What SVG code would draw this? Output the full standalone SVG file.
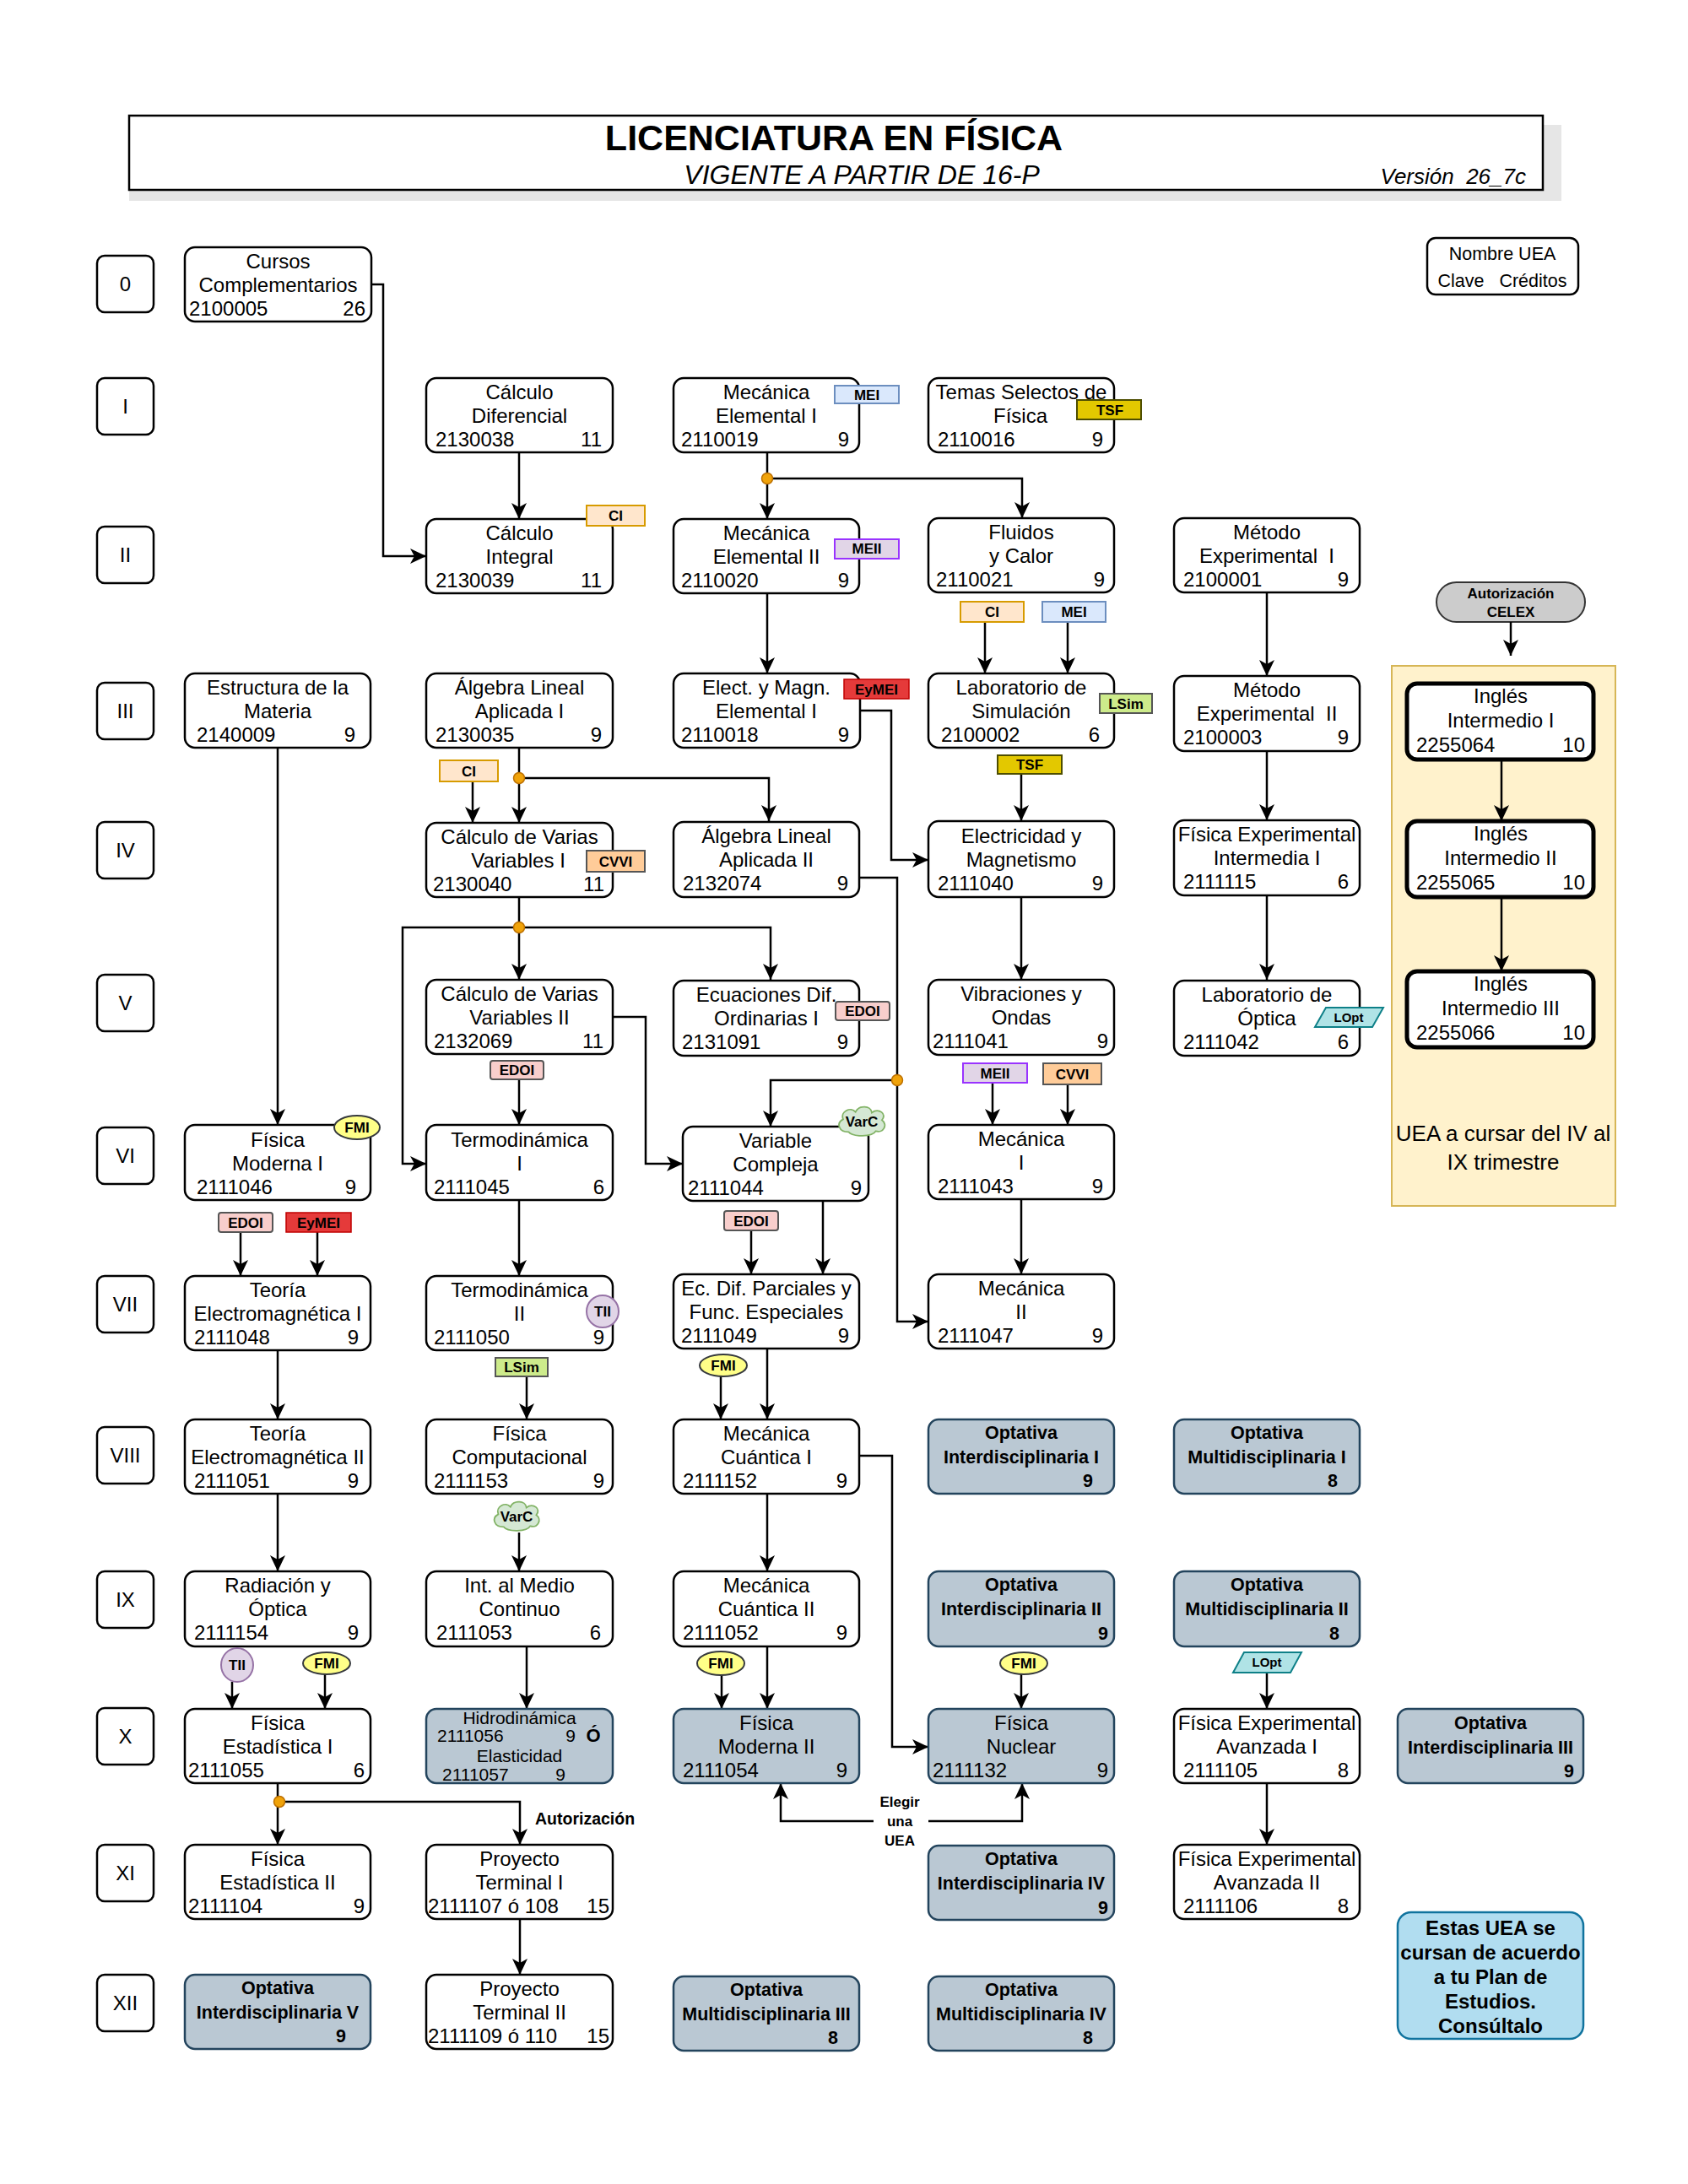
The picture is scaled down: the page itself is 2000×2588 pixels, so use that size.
<svg xmlns="http://www.w3.org/2000/svg" width="2000" height="2588" viewBox="0 0 2000 2588">
<style>
.box{fill:#fff;stroke:#000;stroke-width:2.5}
.opt{fill:#bac8d3;stroke:#23445d;stroke-width:2.5}
.ing{fill:#fff;stroke:#000;stroke-width:5}
.lab{fill:#fff;stroke:#000;stroke-width:2.5}
text{font-family:"Liberation Sans",Arial,Helvetica,sans-serif;fill:#000}
.t{font-size:24px;text-anchor:middle}
.c{font-size:24px;text-anchor:start}
.r{font-size:24px;text-anchor:end}
.ob{font-size:21.5px;font-weight:bold;text-anchor:middle}
.obr{font-size:21.5px;font-weight:bold;text-anchor:end}
.tag{font-size:17px;font-weight:bold;text-anchor:middle}
.con path{fill:none;stroke:#000;stroke-width:2.5}
.dot{fill:#f0a30a;stroke:#bd7000;stroke-width:1.5}
.ci{fill:#ffe6cc;stroke:#d79b00;stroke-width:2}
.mei{fill:#dae8fc;stroke:#6c8ebf;stroke-width:2}
.meii{fill:#e1d5e7;stroke:#9933ff;stroke-width:2}
.tsf{fill:#e3c800;stroke:#4d4d00;stroke-width:2}
.eym{fill:#e53a3a;stroke:#c00000;stroke-width:1.5}
.lsim{fill:#cdeb8b;stroke:#555;stroke-width:2}
.cvvi{fill:#ffcc99;stroke:#555;stroke-width:2}
.edoi{fill:#f8cecc;stroke:#555;stroke-width:2}
.fmi{fill:#ffff88;stroke:#36393d;stroke-width:2}
.tii{fill:#e1d5e7;stroke:#9673a6;stroke-width:2}
.varc{fill:#d5e8d4;stroke:#82b366;stroke-width:2}
.lopt{fill:#b0e3e6;stroke:#0e8088;stroke-width:2}
</style>
<defs>
<marker id="arr" markerUnits="userSpaceOnUse" markerWidth="22" markerHeight="22" viewBox="0 0 22 22" refX="19" refY="11" orient="auto">
<path d="M0,2 L19,11 L0,20 L5,11 Z" fill="#000"/>
</marker>
<path id="cloud" d="M-17,14 C-30,14 -33,2 -24,-3 C-28,-14 -14,-20 -8,-13 C-4,-22 12,-22 13,-12 C22,-19 33,-10 26,-2 C34,4 28,16 18,13 C14,21 -12,21 -17,14 Z"/>
</defs>
<rect width="2000" height="2588" fill="#fff"/>

<!-- Title -->
<g id="title">
<rect x="153" y="148" width="1697" height="90" fill="#e6e6e6"/>
<rect x="153" y="137" width="1675" height="88" fill="#fff" stroke="#000" stroke-width="2.5"/>
<text x="988" y="178" style="font-size:43px;font-weight:bold;text-anchor:middle">LICENCIATURA EN FÍSICA</text>
<text x="1021" y="218" style="font-size:32px;font-style:italic;text-anchor:middle">VIGENTE A PARTIR DE 16-P</text>
<text x="1808" y="218" xml:space="preserve" style="font-size:26px;font-style:italic;text-anchor:end">Versión  26_7c</text>
</g>

<g id="legend">
<rect x="1691" y="282" width="179" height="67" rx="10" class="box"/>
<text x="1780" y="308" style="font-size:21.5px;text-anchor:middle">Nombre UEA</text>
<text x="1780" y="340" xml:space="preserve" style="font-size:21.5px;text-anchor:middle">Clave   Créditos</text>
</g>

<!-- Semester labels -->
<g id="semesters">
<rect class="lab" x="115" y="303" width="67" height="67" rx="9"/><text class="t" x="148.5" y="345">0</text>
<rect class="lab" x="115" y="448" width="67" height="67" rx="9"/><text class="t" x="148.5" y="490">I</text>
<rect class="lab" x="115" y="624" width="67" height="67" rx="9"/><text class="t" x="148.5" y="666">II</text>
<rect class="lab" x="115" y="809" width="67" height="67" rx="9"/><text class="t" x="148.5" y="851">III</text>
<rect class="lab" x="115" y="974" width="67" height="67" rx="9"/><text class="t" x="148.5" y="1016">IV</text>
<rect class="lab" x="115" y="1155" width="67" height="67" rx="9"/><text class="t" x="148.5" y="1197">V</text>
<rect class="lab" x="115" y="1336" width="67" height="67" rx="9"/><text class="t" x="148.5" y="1378">VI</text>
<rect class="lab" x="115" y="1512" width="67" height="67" rx="9"/><text class="t" x="148.5" y="1554">VII</text>
<rect class="lab" x="115" y="1691" width="67" height="67" rx="9"/><text class="t" x="148.5" y="1733">VIII</text>
<rect class="lab" x="115" y="1862" width="67" height="67" rx="9"/><text class="t" x="148.5" y="1904">IX</text>
<rect class="lab" x="115" y="2024" width="67" height="67" rx="9"/><text class="t" x="148.5" y="2066">X</text>
<rect class="lab" x="115" y="2186" width="67" height="67" rx="9"/><text class="t" x="148.5" y="2228">XI</text>
<rect class="lab" x="115" y="2340" width="67" height="67" rx="9"/><text class="t" x="148.5" y="2382">XII</text>
</g>

<!-- Yellow region -->
<g id="region-ingles">
<rect x="1649" y="789" width="265" height="640" fill="#fff2cc" stroke="#d6b656" stroke-width="2"/>
<text x="1781" y="1352" style="font-size:26px;text-anchor:middle">UEA a cursar del IV al</text>
<text x="1781" y="1386" style="font-size:26px;text-anchor:middle">IX trimestre</text>
</g>

<g id="celex">
<rect x="1702" y="690" width="176" height="47" rx="23.5" fill="#cccccc" stroke="#333" stroke-width="2"/>
<text x="1790" y="709" style="font-size:17px;font-weight:bold;text-anchor:middle">Autorización</text>
<text x="1790" y="731" style="font-size:17px;font-weight:bold;text-anchor:middle">CELEX</text>
</g>

<!-- Connectors -->
<g id="connectors" class="con">
<path d="M439,337 H454 V659 H505" marker-end="url(#arr)"/>
<path d="M615,536 V615" marker-end="url(#arr)"/>
<path d="M909,536 V615" marker-end="url(#arr)"/>
<path d="M909,567 H1211 V614" marker-end="url(#arr)"/>
<path d="M909,703 V798" marker-end="url(#arr)"/>
<path d="M1167,737 V798" marker-end="url(#arr)"/>
<path d="M1265,737 V798" marker-end="url(#arr)"/>
<path d="M1501,702 V801" marker-end="url(#arr)"/>
<path d="M1501,890 V972" marker-end="url(#arr)"/>
<path d="M1501,1061 V1161" marker-end="url(#arr)"/>
<path d="M1790,737 V777" marker-end="url(#arr)"/>
<path d="M1779,900 V973" marker-end="url(#arr)"/>
<path d="M1779,1063 V1151" marker-end="url(#arr)"/>
<path d="M1019,842 H1056 V1019 H1100" marker-end="url(#arr)"/>
<path d="M1210,917 V973" marker-end="url(#arr)"/>
<path d="M615,886 V975" marker-end="url(#arr)"/>
<path d="M615,922 H911 V973" marker-end="url(#arr)"/>
<path d="M560,926 V975" marker-end="url(#arr)"/>
<path d="M615,1063 V1161" marker-end="url(#arr)"/>
<path d="M615,1099 H477 V1379 H505" marker-end="url(#arr)"/>
<path d="M615,1099 H913 V1161" marker-end="url(#arr)"/>
<path d="M329,886 V1333" marker-end="url(#arr)"/>
<path d="M1018,1040 H1063 V1566 H1100" marker-end="url(#arr)"/>
<path d="M1063,1280 H913 V1335" marker-end="url(#arr)"/>
<path d="M726,1205 H765 V1379 H809" marker-end="url(#arr)"/>
<path d="M615,1279 V1333" marker-end="url(#arr)"/>
<path d="M1210,1063 V1161" marker-end="url(#arr)"/>
<path d="M1176,1283 V1333" marker-end="url(#arr)"/>
<path d="M1265,1286 V1333" marker-end="url(#arr)"/>
<path d="M1210,1421 V1510" marker-end="url(#arr)"/>
<path d="M285,1460 V1512" marker-end="url(#arr)"/>
<path d="M376,1460 V1512" marker-end="url(#arr)"/>
<path d="M615,1421 V1512" marker-end="url(#arr)"/>
<path d="M975,1423 V1510" marker-end="url(#arr)"/>
<path d="M890,1458 V1510" marker-end="url(#arr)"/>
<path d="M329,1600 V1682" marker-end="url(#arr)"/>
<path d="M624,1631 V1682" marker-end="url(#arr)"/>
<path d="M854,1631 V1682" marker-end="url(#arr)"/>
<path d="M909,1598 V1682" marker-end="url(#arr)"/>
<path d="M1018,1725 H1057 V2070 H1100" marker-end="url(#arr)"/>
<path d="M329,1770 V1862" marker-end="url(#arr)"/>
<path d="M615,1816 V1862" marker-end="url(#arr)"/>
<path d="M909,1770 V1862" marker-end="url(#arr)"/>
<path d="M275,1993 V2025" marker-end="url(#arr)"/>
<path d="M385,1984 V2025" marker-end="url(#arr)"/>
<path d="M624,1951 V2025" marker-end="url(#arr)"/>
<path d="M855,1985 V2025" marker-end="url(#arr)"/>
<path d="M909,1951 V2025" marker-end="url(#arr)"/>
<path d="M1210,1984 V2025" marker-end="url(#arr)"/>
<path d="M1501,1982 V2025" marker-end="url(#arr)"/>
<path d="M329,2113 V2186" marker-end="url(#arr)"/>
<path d="M331,2135 H616 V2186" marker-end="url(#arr)"/>
<path d="M616,2274 V2340" marker-end="url(#arr)"/>
<path d="M1501,2113 V2186" marker-end="url(#arr)"/>
<path d="M1035,2158 H925 V2113" marker-end="url(#arr)"/>
<path d="M1100,2158 H1211 V2113" marker-end="url(#arr)"/>
<circle class="dot" cx="909" cy="567" r="6.5"/>
<circle class="dot" cx="615" cy="922" r="6.5"/>
<circle class="dot" cx="615" cy="1099" r="6.5"/>
<circle class="dot" cx="1063" cy="1280" r="6.5"/>
<circle class="dot" cx="331" cy="2135" r="6.5"/>
<text x="634" y="2162" style="font-size:19.5px;font-weight:bold">Autorización</text>
<text x="1066" y="2141" style="font-size:17px;font-weight:bold;text-anchor:middle">Elegir</text>
<text x="1066" y="2164" style="font-size:17px;font-weight:bold;text-anchor:middle">una</text>
<text x="1066" y="2187" style="font-size:17px;font-weight:bold;text-anchor:middle">UEA</text>
</g>

<!-- Row 0 -->
<g id="n-cursos"><rect class="box" x="219" y="293" width="221" height="88" rx="12"/>
<text class="t" x="329.5" y="318">Cursos</text><text class="t" x="329.5" y="346">Complementarios</text>
<text class="c" x="224" y="374">2100005</text><text class="r" x="433" y="374">26</text></g>

<!-- Row I -->
<g id="n-2130038"><rect class="box" x="505" y="448" width="221" height="88" rx="12"/>
<text class="t" x="615.5" y="473">Cálculo</text><text class="t" x="615.5" y="501">Diferencial</text>
<text class="c" x="516" y="529">2130038</text><text class="r" x="713" y="529">11</text></g>
<g id="n-2110019"><rect class="box" x="798" y="448" width="220" height="88" rx="12"/>
<text class="t" x="908" y="473">Mecánica</text><text class="t" x="908" y="501">Elemental I</text>
<text class="c" x="807" y="529">2110019</text><text class="r" x="1006" y="529">9</text>
<rect class="mei" x="989" y="457" width="76" height="21"/><text class="tag" x="1027" y="474">MEI</text></g>
<g id="n-2110016"><rect class="box" x="1100" y="448" width="220" height="88" rx="12"/>
<text class="t" x="1210" y="473">Temas Selectos de</text><text class="t" x="1209" y="501">Física</text>
<text class="c" x="1111" y="529">2110016</text><text class="r" x="1307" y="529">9</text>
<rect class="tsf" x="1276" y="474" width="76" height="23"/><text class="tag" x="1315" y="492">TSF</text></g>

<!-- Row II -->
<g id="n-2130039"><rect class="box" x="505" y="615" width="221" height="88" rx="12"/>
<text class="t" x="615.5" y="640">Cálculo</text><text class="t" x="615.5" y="668">Integral</text>
<text class="c" x="516" y="696">2130039</text><text class="r" x="713" y="696">11</text>
<rect class="ci" x="695" y="599" width="69" height="24"/><text class="tag" x="729.5" y="617">CI</text></g>
<g id="n-2110020"><rect class="box" x="798" y="615" width="220" height="88" rx="12"/>
<text class="t" x="908" y="640">Mecánica</text><text class="t" x="908" y="668">Elemental II</text>
<text class="c" x="807" y="696">2110020</text><text class="r" x="1006" y="696">9</text>
<rect class="meii" x="989" y="639" width="76" height="23"/><text class="tag" x="1027" y="656">MEII</text></g>
<g id="n-2110021"><rect class="box" x="1100" y="614" width="220" height="88" rx="12"/>
<text class="t" x="1210" y="639">Fluidos</text><text class="t" x="1210" y="667">y Calor</text>
<text class="c" x="1109" y="695">2110021</text><text class="r" x="1309" y="695">9</text></g>
<g id="n-2100001"><rect class="box" x="1391" y="614" width="220" height="88" rx="12"/>
<text class="t" x="1501" y="639">Método</text><text class="t" x="1501" y="667" xml:space="preserve">Experimental  I</text>
<text class="c" x="1402" y="695">2100001</text><text class="r" x="1598" y="695">9</text></g>
<g id="tags-lab-sim">
<rect class="ci" x="1138" y="713" width="75" height="24"/><text class="tag" x="1175.5" y="731">CI</text>
<rect class="mei" x="1235" y="713" width="75" height="24"/><text class="tag" x="1272.5" y="731">MEI</text></g>

<!-- Row III -->
<g id="n-2140009"><rect class="box" x="219" y="798" width="220" height="88" rx="12"/>
<text class="t" x="329" y="823">Estructura de la</text><text class="t" x="329" y="851">Materia</text>
<text class="c" x="233" y="879">2140009</text><text class="r" x="421" y="879">9</text></g>
<g id="n-2130035"><rect class="box" x="505" y="798" width="221" height="88" rx="12"/>
<text class="t" x="615.5" y="823">Álgebra Lineal</text><text class="t" x="615.5" y="851">Aplicada I</text>
<text class="c" x="516" y="879">2130035</text><text class="r" x="713" y="879">9</text></g>
<g id="n-2110018"><rect class="box" x="798" y="798" width="221" height="88" rx="12"/>
<text class="t" x="908" y="823">Elect. y Magn.</text><text class="t" x="908" y="851">Elemental I</text>
<text class="c" x="807" y="879">2110018</text><text class="r" x="1006" y="879">9</text>
<rect class="eym" x="1000" y="805" width="77" height="23"/><text class="tag" x="1038.5" y="823">EyMEI</text></g>
<g id="n-2100002"><rect class="box" x="1100" y="798" width="220" height="88" rx="12"/>
<text class="t" x="1210" y="823">Laboratorio de</text><text class="t" x="1210" y="851">Simulación</text>
<text class="c" x="1115" y="879">2100002</text><text class="r" x="1303" y="879">6</text>
<rect class="lsim" x="1303" y="822" width="62" height="23"/><text class="tag" x="1334" y="840">LSim</text></g>
<g id="n-2100003"><rect class="box" x="1391" y="801" width="220" height="89" rx="12"/>
<text class="t" x="1501" y="826">Método</text><text class="t" x="1501" y="854" xml:space="preserve">Experimental  II</text>
<text class="c" x="1402" y="882">2100003</text><text class="r" x="1598" y="882">9</text></g>
<g id="n-2255064"><rect class="ing" x="1667" y="810" width="221" height="90" rx="12"/>
<text class="t" x="1778" y="833">Inglés</text><text class="t" x="1778" y="862">Intermedio I</text>
<text class="c" x="1678" y="891">2255064</text><text class="r" x="1878" y="891">10</text></g>
<g id="tags-row3">
<rect class="tsf" x="1182" y="895" width="76" height="22"/><text class="tag" x="1220" y="912">TSF</text>
<rect class="ci" x="521" y="901" width="69" height="25"/><text class="tag" x="555.5" y="920">CI</text></g>

<!-- Row IV -->
<g id="n-2130040"><rect class="box" x="505" y="975" width="221" height="88" rx="12"/>
<text class="t" x="615.5" y="1000">Cálculo de Varias</text><text class="t" x="614" y="1028">Variables I</text>
<text class="c" x="513" y="1056">2130040</text><text class="r" x="716" y="1056">11</text>
<rect class="cvvi" x="695" y="1008" width="69" height="25"/><text class="tag" x="729.5" y="1027">CVVI</text></g>
<g id="n-2132074"><rect class="box" x="798" y="974" width="220" height="89" rx="12"/>
<text class="t" x="908" y="999">Álgebra Lineal</text><text class="t" x="908" y="1027">Aplicada II</text>
<text class="c" x="809" y="1055">2132074</text><text class="r" x="1005" y="1055">9</text></g>
<g id="n-2111040"><rect class="box" x="1100" y="973" width="220" height="90" rx="12"/>
<text class="t" x="1210" y="999">Electricidad y</text><text class="t" x="1210" y="1027">Magnetismo</text>
<text class="c" x="1111" y="1055">2111040</text><text class="r" x="1307" y="1055">9</text></g>
<g id="n-2111115"><rect class="box" x="1391" y="972" width="220" height="89" rx="12"/>
<text class="t" x="1501" y="997">Física Experimental</text><text class="t" x="1501" y="1025">Intermedia I</text>
<text class="c" x="1402" y="1053">2111115</text><text class="r" x="1598" y="1053">6</text></g>
<g id="n-2255065"><rect class="ing" x="1667" y="973" width="221" height="90" rx="12"/>
<text class="t" x="1778" y="996">Inglés</text><text class="t" x="1778" y="1025">Intermedio II</text>
<text class="c" x="1678" y="1054">2255065</text><text class="r" x="1878" y="1054">10</text></g>

<!-- Row V -->
<g id="n-2132069"><rect class="box" x="505" y="1161" width="221" height="88" rx="12"/>
<text class="t" x="615.5" y="1186">Cálculo de Varias</text><text class="t" x="615.5" y="1214">Variables II</text>
<text class="c" x="514" y="1242">2132069</text><text class="r" x="715" y="1242">11</text></g>
<g id="n-2131091"><rect class="box" x="798" y="1162" width="220" height="89" rx="12"/>
<text class="t" x="908" y="1187">Ecuaciones Dif.</text><text class="t" x="908" y="1215">Ordinarias I</text>
<text class="c" x="808" y="1243">2131091</text><text class="r" x="1005" y="1243">9</text>
<rect class="edoi" x="990" y="1187" width="64" height="22" rx="3"/><text class="tag" x="1022" y="1204">EDOI</text></g>
<g id="n-2111041"><rect class="box" x="1100" y="1161" width="220" height="89" rx="12"/>
<text class="t" x="1210" y="1186">Vibraciones y</text><text class="t" x="1210" y="1214">Ondas</text>
<text class="c" x="1105" y="1242">2111041</text><text class="r" x="1313" y="1242">9</text></g>
<g id="n-2111042"><rect class="box" x="1391" y="1162" width="220" height="89" rx="12"/>
<text class="t" x="1501" y="1187">Laboratorio de</text><text class="t" x="1501" y="1215">Óptica</text>
<text class="c" x="1402" y="1243">2111042</text><text class="r" x="1598" y="1243">6</text>
<polygon class="lopt" points="1571,1194 1639,1194 1626,1217 1558,1217"/><text class="tag" x="1598" y="1211" style="font-size:15px">LOpt</text></g>
<g id="n-2255066"><rect class="ing" x="1667" y="1151" width="221" height="90" rx="12"/>
<text class="t" x="1778" y="1174">Inglés</text><text class="t" x="1778" y="1203">Intermedio III</text>
<text class="c" x="1678" y="1232">2255066</text><text class="r" x="1878" y="1232">10</text></g>
<g id="tags-row5">
<rect class="edoi" x="581" y="1257" width="63" height="22" rx="3"/><text class="tag" x="612.5" y="1274">EDOI</text>
<rect class="meii" x="1141" y="1260" width="76" height="23"/><text class="tag" x="1179" y="1278">MEII</text>
<rect class="cvvi" x="1236" y="1260" width="69" height="25"/><text class="tag" x="1270.5" y="1279">CVVI</text></g>

<!-- Row VI -->
<g id="n-2111046"><rect class="box" x="219" y="1333" width="220" height="89" rx="12"/>
<text class="t" x="329" y="1359">Física</text><text class="t" x="329" y="1387">Moderna I</text>
<text class="c" x="233" y="1415">2111046</text><text class="r" x="422" y="1415">9</text>
<ellipse class="fmi" cx="423" cy="1336" rx="27" ry="14"/><text class="tag" x="423" y="1342">FMI</text></g>
<g id="n-2111045"><rect class="box" x="505" y="1333" width="221" height="89" rx="12"/>
<text class="t" x="615.5" y="1359">Termodinámica</text><text class="t" x="615.5" y="1387">I</text>
<text class="c" x="514" y="1415">2111045</text><text class="r" x="716" y="1415">6</text></g>
<g id="n-2111044"><rect class="box" x="809" y="1335" width="220" height="88" rx="12"/>
<text class="t" x="919" y="1360">Variable</text><text class="t" x="919" y="1388">Compleja</text>
<text class="c" x="815" y="1416">2111044</text><text class="r" x="1021" y="1416">9</text>
<use href="#cloud" class="varc" transform="translate(1021,1329) scale(0.92,0.88)"/><text class="tag" x="1021" y="1335">VarC</text></g>
<g id="n-2111043"><rect class="box" x="1100" y="1333" width="220" height="88" rx="12"/>
<text class="t" x="1210" y="1358">Mecánica</text><text class="t" x="1210" y="1386">I</text>
<text class="c" x="1111" y="1414">2111043</text><text class="r" x="1307" y="1414">9</text></g>
<g id="tags-row6">
<rect class="edoi" x="259" y="1437" width="64" height="23" rx="3"/><text class="tag" x="291" y="1455">EDOI</text>
<rect class="eym" x="339" y="1437" width="77" height="23"/><text class="tag" x="377.5" y="1455">EyMEI</text>
<rect class="edoi" x="858" y="1435" width="64" height="23" rx="3"/><text class="tag" x="890" y="1453">EDOI</text></g>

<!-- Row VII -->
<g id="n-2111048"><rect class="box" x="219" y="1512" width="220" height="88" rx="12"/>
<text class="t" x="329" y="1537">Teoría</text><text class="t" x="329" y="1565">Electromagnética I</text>
<text class="c" x="230" y="1593">2111048</text><text class="r" x="425" y="1593">9</text></g>
<g id="n-2111050"><rect class="box" x="505" y="1512" width="221" height="88" rx="12"/>
<text class="t" x="615.5" y="1537">Termodinámica</text><text class="t" x="615.5" y="1565">II</text>
<text class="c" x="514" y="1593">2111050</text><text class="r" x="716" y="1593">9</text>
<circle class="tii" cx="714" cy="1554" r="19"/><text class="tag" x="714" y="1560">TII</text></g>
<g id="n-2111049"><rect class="box" x="798" y="1510" width="220" height="88" rx="12"/>
<text class="t" x="908" y="1535">Ec. Dif. Parciales y</text><text class="t" x="908" y="1563">Func. Especiales</text>
<text class="c" x="807" y="1591">2111049</text><text class="r" x="1006" y="1591">9</text></g>
<g id="n-2111047"><rect class="box" x="1100" y="1510" width="220" height="88" rx="12"/>
<text class="t" x="1210" y="1535">Mecánica</text><text class="t" x="1210" y="1563">II</text>
<text class="c" x="1111" y="1591">2111047</text><text class="r" x="1307" y="1591">9</text></g>
<g id="tags-row7">
<rect class="lsim" x="587" y="1609" width="62" height="22"/><text class="tag" x="618" y="1626">LSim</text>
<ellipse class="fmi" cx="857" cy="1618" rx="28" ry="13"/><text class="tag" x="857" y="1624">FMI</text></g>

<!-- Row VIII -->
<g id="n-2111051"><rect class="box" x="219" y="1682" width="220" height="88" rx="12"/>
<text class="t" x="329" y="1707">Teoría</text><text class="t" x="329" y="1735">Electromagnética II</text>
<text class="c" x="230" y="1763">2111051</text><text class="r" x="425" y="1763">9</text></g>
<g id="n-2111153"><rect class="box" x="505" y="1682" width="221" height="88" rx="12"/>
<text class="t" x="615.5" y="1707">Física</text><text class="t" x="615.5" y="1735">Computacional</text>
<text class="c" x="514" y="1763">2111153</text><text class="r" x="716" y="1763">9</text></g>
<g id="n-2111152"><rect class="box" x="798" y="1682" width="220" height="88" rx="12"/>
<text class="t" x="908" y="1707">Mecánica</text><text class="t" x="908" y="1735">Cuántica I</text>
<text class="c" x="809" y="1763">2111152</text><text class="r" x="1004" y="1763">9</text></g>
<g id="n-opt-inter-1"><rect class="opt" x="1100" y="1682" width="220" height="88" rx="12"/>
<text class="ob" x="1210" y="1705">Optativa</text><text class="ob" x="1210" y="1734">Interdisciplinaria I</text>
<text class="obr" x="1295" y="1762">9</text></g>
<g id="n-opt-multi-1"><rect class="opt" x="1391" y="1682" width="220" height="88" rx="12"/>
<text class="ob" x="1501" y="1705">Optativa</text><text class="ob" x="1501" y="1734">Multidisciplinaria I</text>
<text class="obr" x="1585" y="1762">8</text></g>
<g id="tags-row8">
<use href="#cloud" class="varc" transform="translate(612,1797) scale(0.9,0.88)"/><text class="tag" x="612" y="1803">VarC</text></g>

<!-- Row IX -->
<g id="n-2111154"><rect class="box" x="219" y="1862" width="220" height="89" rx="12"/>
<text class="t" x="329" y="1887">Radiación y</text><text class="t" x="329" y="1915">Óptica</text>
<text class="c" x="230" y="1943">2111154</text><text class="r" x="425" y="1943">9</text></g>
<g id="n-2111053"><rect class="box" x="505" y="1862" width="221" height="89" rx="12"/>
<text class="t" x="615.5" y="1887">Int. al Medio</text><text class="t" x="615.5" y="1915">Continuo</text>
<text class="c" x="517" y="1943">2111053</text><text class="r" x="712" y="1943">6</text></g>
<g id="n-2111052"><rect class="box" x="798" y="1862" width="220" height="89" rx="12"/>
<text class="t" x="908" y="1887">Mecánica</text><text class="t" x="908" y="1915">Cuántica II</text>
<text class="c" x="809" y="1943">2111052</text><text class="r" x="1004" y="1943">9</text></g>
<g id="n-opt-inter-2"><rect class="opt" x="1100" y="1862" width="220" height="89" rx="12"/>
<text class="ob" x="1210" y="1885">Optativa</text><text class="ob" x="1210" y="1914">Interdisciplinaria II</text>
<text class="obr" x="1313" y="1943">9</text></g>
<g id="n-opt-multi-2"><rect class="opt" x="1391" y="1862" width="220" height="89" rx="12"/>
<text class="ob" x="1501" y="1885">Optativa</text><text class="ob" x="1501" y="1914">Multidisciplinaria II</text>
<text class="obr" x="1587" y="1943">8</text></g>
<g id="tags-row9">
<ellipse class="tii" cx="281" cy="1973" rx="19" ry="20"/><text class="tag" x="281" y="1979">TII</text>
<ellipse class="fmi" cx="387" cy="1971" rx="28" ry="13"/><text class="tag" x="387" y="1977">FMI</text>
<ellipse class="fmi" cx="854" cy="1971" rx="28" ry="14"/><text class="tag" x="854" y="1977">FMI</text>
<ellipse class="fmi" cx="1213" cy="1971" rx="28" ry="13"/><text class="tag" x="1213" y="1977">FMI</text>
<polygon class="lopt" points="1474,1958 1542,1958 1529,1982 1461,1982"/><text class="tag" x="1501" y="1975" style="font-size:15px">LOpt</text></g>

<!-- Row X -->
<g id="n-2111055"><rect class="box" x="219" y="2025" width="220" height="88" rx="12"/>
<text class="t" x="329" y="2050">Física</text><text class="t" x="329" y="2078">Estadística I</text>
<text class="c" x="223" y="2106">2111055</text><text class="r" x="432" y="2106">6</text></g>
<g id="n-2111056-57"><rect class="opt" x="505" y="2025" width="221" height="88" rx="12"/>
<text x="615.5" y="2043" style="font-size:21px;text-anchor:middle">Hidrodinámica</text>
<text x="518" y="2064" style="font-size:21px">2111056</text>
<text x="682" y="2064" style="font-size:21px;text-anchor:end">9</text>
<text x="703" y="2064" style="font-size:22px;font-weight:bold;text-anchor:middle">Ó</text>
<text x="615.5" y="2088" style="font-size:21px;text-anchor:middle">Elasticidad</text>
<text x="524" y="2110" style="font-size:21px">2111057</text>
<text x="664" y="2110" style="font-size:21px;text-anchor:middle">9</text></g>
<g id="n-2111054"><rect class="opt" x="798" y="2025" width="220" height="88" rx="12"/>
<text class="t" x="908" y="2050">Física</text><text class="t" x="908" y="2078">Moderna II</text>
<text class="c" x="809" y="2106">2111054</text><text class="r" x="1004" y="2106">9</text></g>
<g id="n-2111132"><rect class="opt" x="1100" y="2025" width="220" height="88" rx="12"/>
<text class="t" x="1210" y="2050">Física</text><text class="t" x="1210" y="2078">Nuclear</text>
<text class="c" x="1105" y="2106">2111132</text><text class="r" x="1313" y="2106">9</text></g>
<g id="n-2111105"><rect class="box" x="1391" y="2025" width="220" height="88" rx="12"/>
<text class="t" x="1501" y="2050">Física Experimental</text><text class="t" x="1501" y="2078">Avanzada I</text>
<text class="c" x="1402" y="2106">2111105</text><text class="r" x="1598" y="2106">8</text></g>
<g id="n-opt-inter-3"><rect class="opt" x="1656" y="2025" width="220" height="88" rx="12"/>
<text class="ob" x="1766" y="2049">Optativa</text><text class="ob" x="1766" y="2078">Interdisciplinaria III</text>
<text class="obr" x="1865" y="2106">9</text></g>

<!-- Row XI -->
<g id="n-2111104"><rect class="box" x="219" y="2186" width="220" height="88" rx="12"/>
<text class="t" x="329" y="2211">Física</text><text class="t" x="329" y="2239">Estadística II</text>
<text class="c" x="223" y="2267">2111104</text><text class="r" x="432" y="2267">9</text></g>
<g id="n-2111107"><rect class="box" x="505" y="2186" width="221" height="88" rx="12"/>
<text class="t" x="615.5" y="2211">Proyecto</text><text class="t" x="615.5" y="2239">Terminal I</text>
<text class="c" x="507" y="2267">2111107 ó 108</text><text class="r" x="722" y="2267">15</text></g>
<g id="n-opt-inter-4"><rect class="opt" x="1100" y="2187" width="220" height="88" rx="12"/>
<text class="ob" x="1210" y="2210">Optativa</text><text class="ob" x="1210" y="2239">Interdisciplinaria IV</text>
<text class="obr" x="1313" y="2268">9</text></g>
<g id="n-2111106"><rect class="box" x="1391" y="2186" width="220" height="88" rx="12"/>
<text class="t" x="1501" y="2211">Física Experimental</text><text class="t" x="1501" y="2239">Avanzada II</text>
<text class="c" x="1402" y="2267">2111106</text><text class="r" x="1598" y="2267">8</text></g>
<g id="n-nota"><rect x="1656" y="2266" width="220" height="150" rx="16" fill="#b1ddf0" stroke="#10739e" stroke-width="2.5"/>
<text x="1766" y="2293" style="font-size:24px;font-weight:bold;text-anchor:middle">Estas UEA se</text>
<text x="1766" y="2322" style="font-size:24px;font-weight:bold;text-anchor:middle">cursan de acuerdo</text>
<text x="1766" y="2351" style="font-size:24px;font-weight:bold;text-anchor:middle">a tu Plan de</text>
<text x="1766" y="2380" style="font-size:24px;font-weight:bold;text-anchor:middle">Estudios.</text>
<text x="1766" y="2409" style="font-size:24px;font-weight:bold;text-anchor:middle">Consúltalo</text></g>

<!-- Row XII -->
<g id="n-opt-inter-5"><rect class="opt" x="219" y="2340" width="220" height="88" rx="12"/>
<text class="ob" x="329" y="2363">Optativa</text><text class="ob" x="329" y="2392">Interdisciplinaria V</text>
<text class="obr" x="410" y="2420">9</text></g>
<g id="n-2111109"><rect class="box" x="505" y="2340" width="221" height="88" rx="12"/>
<text class="t" x="615.5" y="2365">Proyecto</text><text class="t" x="615.5" y="2393">Terminal II</text>
<text class="c" x="507" y="2421">2111109 ó 110</text><text class="r" x="722" y="2421">15</text></g>
<g id="n-opt-multi-3"><rect class="opt" x="798" y="2342" width="220" height="88" rx="12"/>
<text class="ob" x="908" y="2365">Optativa</text><text class="ob" x="908" y="2394">Multidisciplinaria III</text>
<text class="obr" x="993" y="2422">8</text></g>
<g id="n-opt-multi-4"><rect class="opt" x="1100" y="2342" width="220" height="88" rx="12"/>
<text class="ob" x="1210" y="2365">Optativa</text><text class="ob" x="1210" y="2394">Multidisciplinaria IV</text>
<text class="obr" x="1295" y="2422">8</text></g>
</svg>
